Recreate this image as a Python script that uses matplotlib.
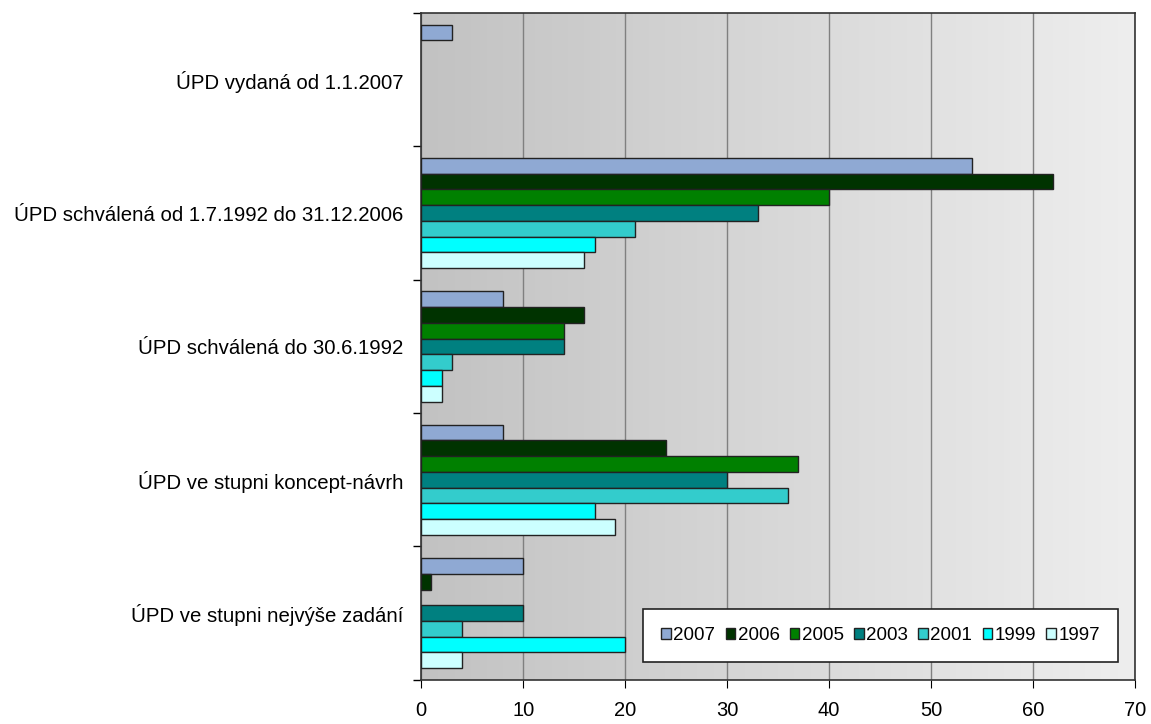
import numpy as np
import matplotlib.pyplot as plt
from matplotlib.colors import LinearSegmentedColormap

plt.rcParams['font.family'] = ['Liberation Sans', 'DejaVu Sans']

# kategorie (odshora dolu)
kategorie = [
    "ÚPD vydaná od 1.1.2007",
    "ÚPD schválená od 1.7.1992 do 31.12.2006",
    "ÚPD schválená do 30.6.1992",
    "ÚPD ve stupni koncept-návrh",
    "ÚPD ve stupni nejvýše zadání",
]

roky = ["2007", "2006", "2005", "2003", "2001", "1999", "1997"]
barvy = ["#8FA9D3", "#003300", "#008000", "#008080", "#33CCCC", "#00FFFF", "#CCFFFF"]

nan = np.nan
h2007 = [3, 54, 8, 8, 10]
h2006 = [nan, 62, 16, 24, 1]
h2005 = [nan, 40, 14, 37, nan]
h2003 = [nan, 33, 14, 30, 10]
h2001 = [nan, 21, 3, 36, 4]
h1999 = [nan, 17, 2, 17, 20]
h1997 = [nan, 16, 2, 19, 4]
hodnoty = [h2007, h2006, h2005, h2003, h2001, h1999, h1997]

fig = plt.figure(figsize=(11.51, 7.24), dpi=100)
ax = fig.add_axes([0.366, 0.061, 0.620, 0.921])

# pozadi s prechodem
grad = np.linspace(0, 1, 256).reshape(1, -1)
ax.imshow(grad, extent=[0, 1, 0, 1], transform=ax.transAxes, aspect='auto',
          cmap=LinearSegmentedColormap.from_list('bg', ['#C2C2C2', '#EEEEEE']),
          zorder=0)

vyska = 0.118
pozice = np.arange(len(kategorie))
for i, (rok, data) in enumerate(zip(roky, hodnoty)):
    y = pozice - 3 * vyska + i * vyska
    ax.barh(y, data, height=vyska, color=barvy[i], edgecolor='#222222',
            linewidth=1.0, label=rok, zorder=3)

ax.set_xlim(0, 70)
ax.set_ylim(len(kategorie) - 0.5, -0.5)
ax.set_xticks(range(0, 71, 10))
ax.xaxis.grid(True, color='#808080', linewidth=1.0, zorder=1)
ax.set_axisbelow(True)

ax.set_yticks(pozice)
ax.set_yticklabels(kategorie, fontsize=14.7)
ax.set_yticks(np.arange(-0.5, len(kategorie)), minor=True)
ax.tick_params(axis='y', which='major', length=0, pad=13)
ax.tick_params(axis='y', which='minor', length=6, direction='out', width=1)
ax.tick_params(axis='x', length=6, direction='out', pad=9, labelsize=14.5)

for s in ax.spines.values():
    s.set_color('#333333')
    s.set_linewidth(1.2)

leg = ax.legend(loc='lower right', bbox_to_anchor=(0.976, 0.027), ncol=7,
                fontsize=13.5, frameon=True, fancybox=False, handlelength=0.5,
                handleheight=0.5, handletextpad=0.14, columnspacing=0.55,
                borderpad=0.95, borderaxespad=0, framealpha=1)
leg.get_frame().set_edgecolor('#222222')
leg.get_frame().set_linewidth(1.2)

fig.savefig('out.png', dpi=100)
